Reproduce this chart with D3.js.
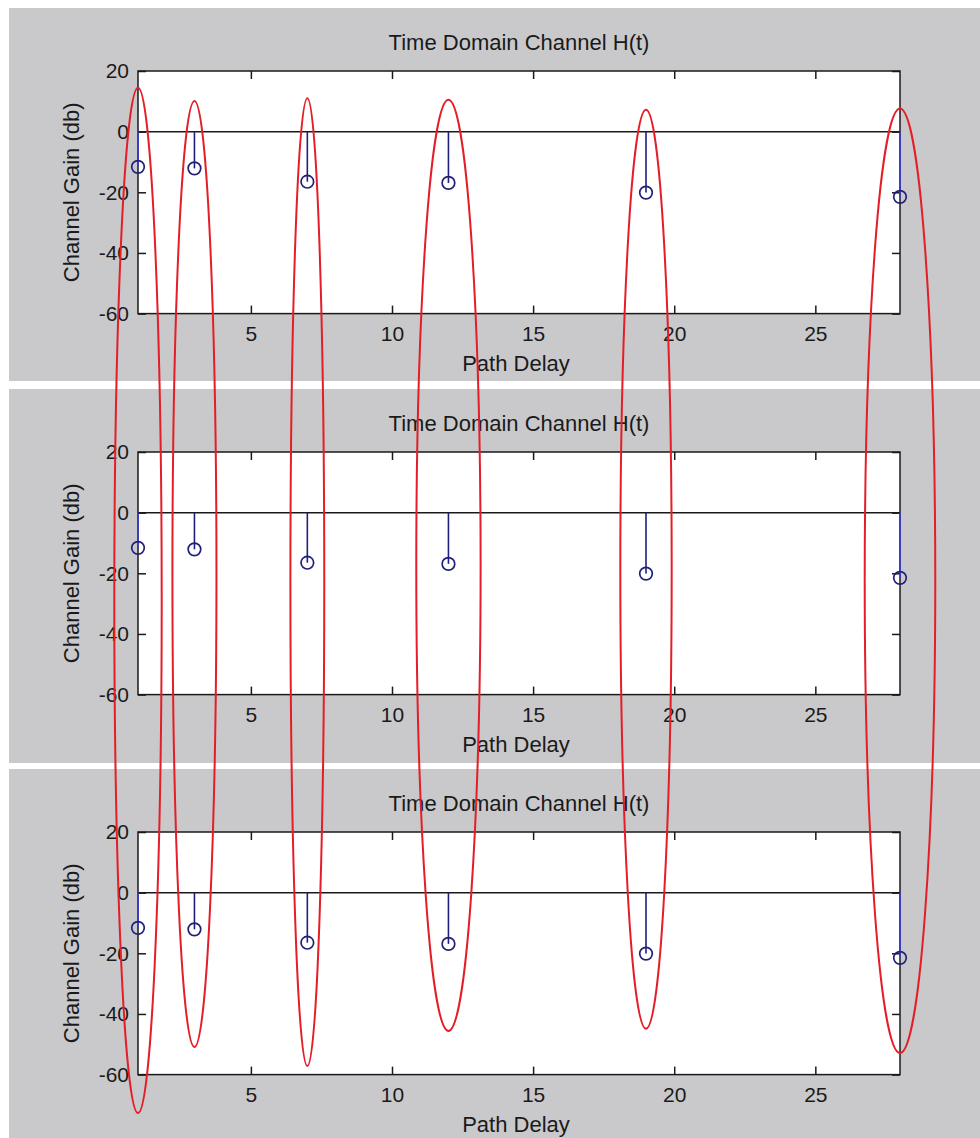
<!DOCTYPE html>
<html>
<head>
<meta charset="utf-8">
<script src="https://cdnjs.cloudflare.com/ajax/libs/d3/7.8.5/d3.min.js"></script>
<style>
  body { margin: 0; background: #fff; }
  svg text { font-family: "Liberation Sans", Arial, sans-serif; fill: #1a1a1a; }
</style>
</head>
<body>
<svg id="chart"></svg>
<script>
const pathDelay = [1, 3, 7, 12, 19, 28];
const channelGain = [-11.6, -12.1, -16.5, -16.9, -20.1, -21.5];
const xTicks = [5, 10, 15, 20, 25];
const yTicks = [-60, -40, -20, 0, 20];
const panelTitles = ["Time Domain Channel H(t)", "Time Domain Channel H(t)", "Time Domain Channel H(t)"];

// red rings drawn over all three panels: top read on panel 1 (dB), bottom on panel 3 (dB)
const ringTop = [14.5, 10.1, 11.0, 10.5, 7.2, 7.6];
const ringBottom = [-72.7, -50.9, -57.2, -45.6, -44.9, -52.9];
const ringHalfWidth = [0.84, 0.78, 0.6, 1.14, 0.91, 1.25];

const width = 980;
const height = 1138;
const bands = [[8, 381], [389, 763], [769, 1138]];
const margin = { top: 63, left: 138, right: 80 };
const plotH = 242.6;
const GREY = "#c9c9cb";
const STEM = "#20207a";
const EDGE_STEM = "#3a3ad8";
const AXIS = "#1a1a1a";

const svg = d3.select('#chart')
  .attr('width', width)
  .attr('height', height);

const x = d3.scaleLinear()
  .domain([1, 28])
  .range([margin.left, width - margin.right]);

const plain = d => String(d);   // keep the ascii hyphen for negatives
const yScales = [];

bands.forEach((band, i) => {
  const top = band[0] + margin.top;
  const y = d3.scaleLinear()
    .domain([-60, 20])
    .range([top + plotH, top]);
  yScales.push(y);

  const g = svg.append('g').attr('class', 'panel');

  // figure background
  g.append('rect')
    .attr('x', 9)
    .attr('y', band[0])
    .attr('width', width - 9)
    .attr('height', band[1] - band[0])
    .attr('fill', GREY);

  g.append('rect')
    .attr('x', x(1))
    .attr('y', y(20))
    .attr('width', x(28) - x(1))
    .attr('height', y(-60) - y(20))
    .attr('fill', '#fff');

  // axes, MATLAB style ticks pointing inwards
  const bottom = g.append('g')
    .attr('transform', `translate(0, ${y(-60)})`)
    .call(d3.axisBottom(x).tickValues(xTicks).tickSize(-8).tickPadding(12.5).tickFormat(plain));
  const topAx = g.append('g')
    .attr('transform', `translate(0, ${y(20)})`)
    .call(d3.axisTop(x).tickValues(xTicks).tickSize(-8).tickFormat(''));
  const left = g.append('g')
    .attr('transform', `translate(${x(1)}, 0)`)
    .call(d3.axisLeft(y).tickValues(yTicks).tickSize(-8).tickPadding(9).tickFormat(plain));
  const right = g.append('g')
    .attr('transform', `translate(${x(28)}, 0)`)
    .call(d3.axisRight(y).tickValues(yTicks).tickSize(-8).tickFormat(''));

  [bottom, topAx, left, right].forEach(a => {
    a.select('.domain').remove();
    a.selectAll('.tick line').attr('stroke', AXIS).attr('stroke-width', 1.5);
    a.selectAll('.tick text')
      .attr('font-size', '21px')
      .attr('font-family', '"Liberation Sans", Arial, sans-serif')
      .attr('fill', AXIS);
  });

  // zero baseline
  g.append('line')
    .attr('x1', x(1))
    .attr('x2', x(28))
    .attr('y1', y(0))
    .attr('y2', y(0))
    .attr('stroke', AXIS)
    .attr('stroke-width', 1.5);

  // box
  g.append('rect')
    .attr('x', x(1))
    .attr('y', y(20))
    .attr('width', x(28) - x(1))
    .attr('height', y(-60) - y(20))
    .attr('fill', 'none')
    .attr('stroke', AXIS)
    .attr('stroke-width', 1.5);

  // stems
  const stem = g.selectAll('.stem')
    .data(pathDelay.map((d, j) => ({ delay: d, gain: channelGain[j] })))
    .enter().append('g')
    .attr('class', 'stem');

  const onEdge = d => d.delay === x.domain()[0] || d.delay === x.domain()[1];

  stem.append('line')
    .attr('x1', d => x(d.delay))
    .attr('x2', d => x(d.delay))
    .attr('y1', y(0))
    .attr('y2', d => y(d.gain))
    .attr('stroke', d => onEdge(d) ? EDGE_STEM : STEM)
    .attr('stroke-width', 1.6);

  stem.append('circle')
    .attr('cx', d => x(d.delay))
    .attr('cy', d => y(d.gain))
    .attr('r', 6.3)
    .attr('fill', 'none')
    .attr('stroke', STEM)
    .attr('stroke-width', 1.7);

  // labels
  g.append('text')
    .attr('x', (x(1) + x(28)) / 2)
    .attr('y', y(20) - 21)
    .attr('text-anchor', 'middle')
    .attr('font-size', '22px')
    .text(panelTitles[i]);

  g.append('text')
    .attr('x', (x(1) + x(28)) / 2 - 3)
    .attr('y', y(-60) + 57)
    .attr('text-anchor', 'middle')
    .attr('font-size', '22px')
    .text('Path Delay');

  g.append('text')
    .attr('transform', `translate(79, ${(y(20) + y(-60)) / 2}) rotate(-90)`)
    .attr('text-anchor', 'middle')
    .attr('font-size', '22px')
    .text('Channel Gain (db)');
});

// red rings across the three panels
const unit = x(2) - x(1);
const ringTopY = ringTop.map(v => yScales[0](v));
const ringBottomY = ringBottom.map(v => yScales[2](v));

svg.append('g')
  .attr('class', 'rings')
  .selectAll('ellipse')
  .data(pathDelay)
  .enter().append('ellipse')
  .attr('cx', d => x(d))
  .attr('cy', (d, i) => (ringTopY[i] + ringBottomY[i]) / 2)
  .attr('rx', (d, i) => ringHalfWidth[i] * unit)
  .attr('ry', (d, i) => (ringBottomY[i] - ringTopY[i]) / 2)
  .attr('fill', 'none')
  .attr('stroke', '#e41e26')
  .attr('stroke-width', 2);
</script>
</body>
</html>
